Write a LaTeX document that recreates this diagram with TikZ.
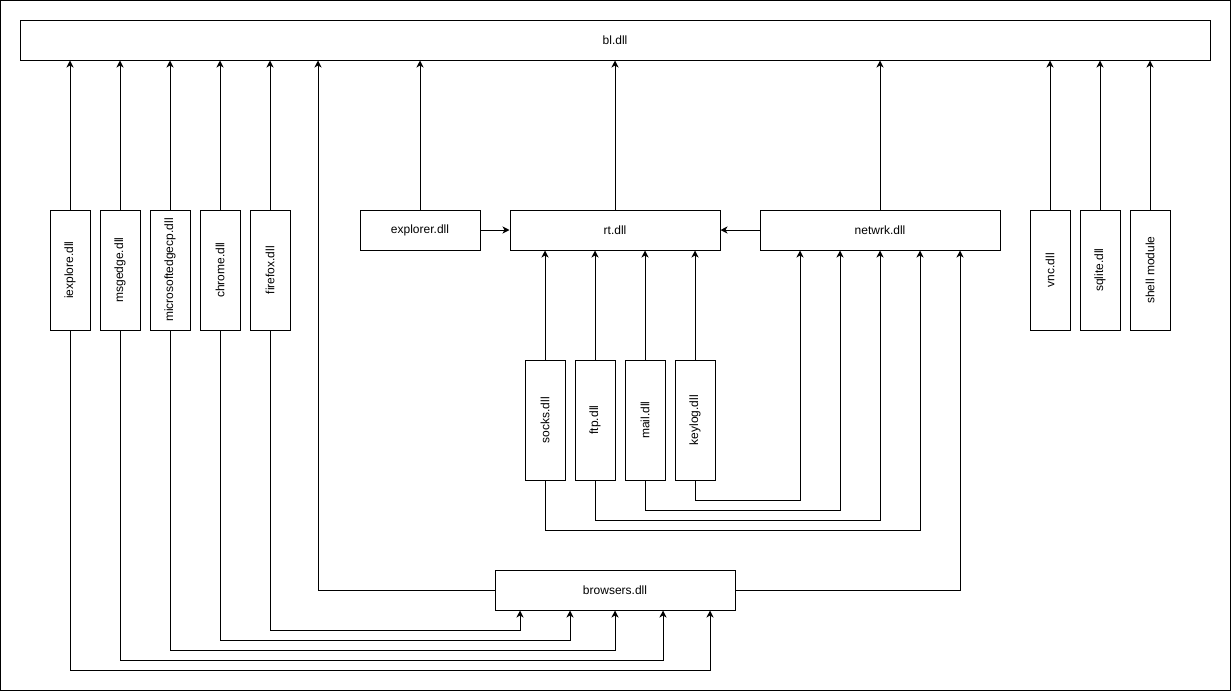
\documentclass[tikz,border=0pt]{standalone}
\usepackage{fontspec}
\setmainfont{Liberation Sans}
\usetikzlibrary{arrows.meta}
\begin{document}
\begin{tikzpicture}[x=1pt,y=-1pt,
  box/.style={draw,line width=1pt,inner sep=0pt,font=\fontsize{12}{14}\selectfont},
  hbox/.style={box,minimum height=40pt},
  vbox/.style={box,minimum width=40pt,minimum height=120pt},
  arr/.style={line width=1pt,-{Stealth[length=7pt,width=7pt,inset=2pt]}},
  ln/.style={line width=1pt}]
\useasboundingbox (0,0) rectangle (1231,691);
\draw[ln] (0.5,0.5) rectangle (1230.5,690.5);
% nodes
\node[hbox,minimum width=1190pt] (bl) at (615,40) {bl.dll};
\node[vbox] (iex) at (70,270) {\rotatebox{90}{iexplore.dll}};
\node[vbox] (mse) at (120,270) {\rotatebox{90}{msgedge.dll}};
\node[vbox] (mec) at (170,270) {\rotatebox{90}{microsoftedgecp.dll}};
\node[vbox] (chr) at (220,270) {\rotatebox{90}{chrome.dll}};
\node[vbox] (ffx) at (270,270) {\rotatebox{90}{firefox.dll}};
\node[hbox,minimum width=120pt] (exp) at (420,230) {explorer.dll};
\node[hbox,minimum width=210pt] (rt) at (615,230) {rt.dll};
\node[hbox,minimum width=240pt] (net) at (880,230) {netwrk.dll};
\node[vbox] (vnc) at (1050,270) {\rotatebox{90}{vnc.dll}};
\node[vbox] (sql) at (1100,270) {\rotatebox{90}{sqlite.dll}};
\node[vbox] (shm) at (1150,270) {\rotatebox{90}{shell module}};
\node[vbox] (sck) at (545,420) {\rotatebox{90}{socks.dll}};
\node[vbox] (ftp) at (595,420) {\rotatebox{90}{ftp.dll}};
\node[vbox] (mail) at (645,420) {\rotatebox{90}{mail.dll}};
\node[vbox] (key) at (695,420) {\rotatebox{90}{keylog.dll}};
\node[hbox,minimum width=240pt] (brw) at (615,590) {browsers.dll};
% up to bl.dll
\foreach \n in {iex,mse,mec,chr,ffx,exp,rt,net,vnc,sql,shm}
  \draw[arr] (\n.north) -- (\n.north |- bl.south);
\draw[arr] (brw.west) -- (318,590) -- (318,60 |- bl.south);
% into rt
\draw[arr] (exp.east) -- (rt.west);
\draw[arr] (net.west) -- (rt.east);
\foreach \n in {sck,ftp,mail,key}
  \draw[arr] (\n.north) -- (\n.north |- rt.south);
% into netwrk
\draw[arr] (sck.south) -- (545,530) -- (920,530) -- (920,250 |- net.south);
\draw[arr] (ftp.south) -- (595,520) -- (880,520) -- (880,250 |- net.south);
\draw[arr] (mail.south) -- (645,510) -- (840,510) -- (840,250 |- net.south);
\draw[arr] (key.south) -- (695,500) -- (800,500) -- (800,250 |- net.south);
\draw[arr] (brw.east) -- (960,590) -- (960,250 |- net.south);
% into browsers
\draw[arr] (ffx.south) -- (270,630) -- (520,630) -- (520,610 |- brw.south);
\draw[arr] (chr.south) -- (220,640) -- (570,640) -- (570,610 |- brw.south);
\draw[arr] (mec.south) -- (170,650) -- (615,650) -- (615,610 |- brw.south);
\draw[arr] (mse.south) -- (120,660) -- (663,660) -- (663,610 |- brw.south);
\draw[arr] (iex.south) -- (70,670) -- (710,670) -- (710,610 |- brw.south);
\end{tikzpicture}
\end{document}
